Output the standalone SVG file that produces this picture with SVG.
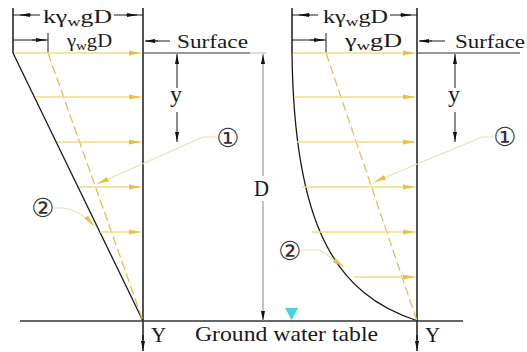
<svg xmlns="http://www.w3.org/2000/svg" width="527" height="352" viewBox="0 0 527 352">
<style>
.t{font-family:"Liberation Serif","Times New Roman",serif;fill:#1a1a1a}
.c{font-family:"DejaVu Sans","Noto Sans CJK SC",sans-serif;fill:#333}
.ln{stroke:#1a1a1a;stroke-width:1.5;fill:none}
.thin{stroke:#1a1a1a;stroke-width:1;fill:none}
.gray{stroke:#8a8a8a;stroke-width:1;fill:none}
.ya{stroke:#f0dc84;stroke-width:1.4;fill:none;marker-end:url(#yh)}
.dash{stroke:#dcc048;stroke-width:1.2;stroke-dasharray:9 4;fill:none}
.leadA{stroke:#e6dfb6;stroke-width:1.2;fill:none;marker-end:url(#yh)}
.da{stroke:#1a1a1a;stroke-width:1;fill:none;marker-end:url(#bh)}
</style>
<defs>
<marker id="bh" viewBox="0 0 10 4" refX="10" refY="2" markerWidth="10" markerHeight="4" orient="auto" markerUnits="userSpaceOnUse"><path d="M0,0 L10,2 L0,4 z" fill="#111"/></marker>
<marker id="yh" viewBox="0 0 12 6" refX="12" refY="3" markerWidth="12" markerHeight="6" orient="auto" markerUnits="userSpaceOnUse"><path d="M0,0.5 L12,3 L0,5.5 z" fill="#e4c445"/></marker>
</defs>

<g id="left-diagram">
  <line class="ln" x1="13" y1="8" x2="13" y2="53"/>
  <line class="ln" x1="143" y1="8" x2="143" y2="340"/>
  <line class="da" x1="143" y1="335" x2="143" y2="351" style="stroke-width:1.5"/>
  <line class="ln" x1="13" y1="53" x2="143" y2="321" style="stroke-width:1.3"/>
  <line class="dash" x1="48" y1="53" x2="143" y2="321"/>
  <line class="thin" x1="48" y1="33" x2="48" y2="53"/>
  <line class="ya" x1="14" y1="53" x2="141" y2="53"/>
  <line class="ya" x1="35" y1="97" x2="141" y2="97"/>
  <line class="ya" x1="57" y1="142" x2="141" y2="142"/>
  <line class="ya" x1="79" y1="187" x2="141" y2="187"/>
  <line class="ya" x1="100" y1="232" x2="141" y2="232"/>
</g>

<g id="right-diagram">
  <line class="ln" x1="292" y1="8" x2="292" y2="53"/>
  <line class="ln" x1="417" y1="8" x2="417" y2="340"/>
  <line class="da" x1="417" y1="335" x2="417" y2="351" style="stroke-width:1.5"/>
  <path class="ln" d="M292,53 C294,225 335,295 418,321" style="stroke-width:1.3"/>
  <line class="dash" x1="326" y1="53" x2="417" y2="321"/>
  <line class="thin" x1="326" y1="33" x2="326" y2="53"/>
  <line class="ya" x1="293" y1="53" x2="415" y2="53"/>
  <line class="ya" x1="294" y1="97" x2="415" y2="97"/>
  <line class="ya" x1="297" y1="142" x2="415" y2="142"/>
  <line class="ya" x1="302" y1="187" x2="415" y2="187"/>
  <line class="ya" x1="312" y1="232" x2="415" y2="232"/>
  <line class="ya" x1="354" y1="277" x2="415" y2="277"/>
</g>

<g id="ground">
  <line x1="20" y1="321" x2="463" y2="321" stroke="#333" stroke-width="1.3"/>
  <path d="M285,308 L298,308 L291.5,320 z" fill="#3fd6e0"/>
  <text class="t" x="195" y="341" font-size="22" textLength="183" lengthAdjust="spacingAndGlyphs">Ground water table</text>
  <text class="t" x="151" y="342" font-size="21">Y</text>
  <text class="t" x="425" y="342" font-size="21">Y</text>
</g>

<g id="connectors">
  <line class="thin" x1="13" y1="15" x2="40" y2="15"/>
  <line class="da" x1="31" y1="15" x2="20" y2="15"/>
  <line class="thin" x1="114" y1="15" x2="143" y2="15"/>
  <line class="da" x1="126" y1="15" x2="137" y2="15"/>
  <line class="thin" x1="13" y1="40" x2="48" y2="40"/>
  <line class="da" x1="32" y1="40" x2="46" y2="40"/>
  <line class="thin" x1="146" y1="41" x2="170" y2="41"/>
  <line class="da" x1="158" y1="41" x2="145" y2="41"/>
  <line x1="143" y1="53" x2="250" y2="53" stroke="#333" stroke-width="1.2"/>
  <line x1="250" y1="53" x2="266" y2="53" stroke="#bbb" stroke-width="1"/>
  <line class="thin" x1="292" y1="15" x2="318" y2="15"/>
  <line class="da" x1="310" y1="15" x2="299" y2="15"/>
  <line class="thin" x1="390" y1="15" x2="417" y2="15"/>
  <line class="da" x1="400" y1="15" x2="411" y2="15"/>
  <line class="thin" x1="292" y1="40" x2="326" y2="40"/>
  <line class="da" x1="310" y1="40" x2="324" y2="40"/>
  <line class="thin" x1="420" y1="41" x2="445" y2="41"/>
  <line class="da" x1="432" y1="41" x2="419" y2="41"/>
  <line x1="417" y1="53" x2="520" y2="53" stroke="#333" stroke-width="1.2"/>
  <line class="da" x1="177" y1="88" x2="177" y2="54"/>
  <line class="da" x1="177" y1="112" x2="177" y2="142"/>
  <line class="da" x1="455" y1="88" x2="455" y2="54"/>
  <line class="da" x1="455" y1="112" x2="455" y2="142"/>
  <line class="gray" x1="263" y1="176" x2="263" y2="54" style="marker-end:url(#bh)"/>
  <line class="gray" x1="263" y1="201" x2="263" y2="321" style="marker-end:url(#bh)"/>
  <path class="leadA" d="M217,137 L203,137 L97,184"/>
  <path class="leadA" d="M494,137 L482,137 L374,182"/>
  <path class="leadA" d="M54,208 L63,208 Q80,210 94,226"/>
  <path class="leadA" d="M301,250 L320,250 L344,267"/>
</g>

<g id="labels">
  <text class="t" x="43" y="23" font-size="18" textLength="69" lengthAdjust="spacingAndGlyphs">kγ<tspan font-size="13" dy="3">w</tspan><tspan dy="-3">gD</tspan></text>
  <text class="t" x="67" y="47" font-size="18" textLength="45" lengthAdjust="spacingAndGlyphs">γ<tspan font-size="13" dy="3">w</tspan><tspan dy="-3">gD</tspan></text>
  <text class="t" x="177" y="48" font-size="19" textLength="71" lengthAdjust="spacingAndGlyphs">Surface</text>
  <text class="t" x="323" y="23" font-size="18" textLength="65" lengthAdjust="spacingAndGlyphs">kγ<tspan font-size="13" dy="3">w</tspan><tspan dy="-3">gD</tspan></text>
  <text class="t" x="345" y="47" font-size="18" textLength="57" lengthAdjust="spacingAndGlyphs">γ<tspan font-size="13" dy="3">w</tspan><tspan dy="-3">gD</tspan></text>
  <text class="t" x="455" y="48" font-size="19" textLength="70" lengthAdjust="spacingAndGlyphs">Surface</text>
  <text class="t" x="176" y="102" font-size="24" text-anchor="middle">y</text>
  <text class="t" x="454" y="102" font-size="24" text-anchor="middle">y</text>
  <text class="t" x="254" y="196" font-size="23" textLength="15" lengthAdjust="spacingAndGlyphs">D</text>
  <text class="c" x="228" y="147" font-size="26" text-anchor="middle">①</text>
  <text class="c" x="505" y="146" font-size="26" text-anchor="middle">①</text>
  <text class="c" x="43" y="217" font-size="26" text-anchor="middle">②</text>
  <text class="c" x="290" y="260" font-size="26" text-anchor="middle">②</text>
</g>
</svg>
